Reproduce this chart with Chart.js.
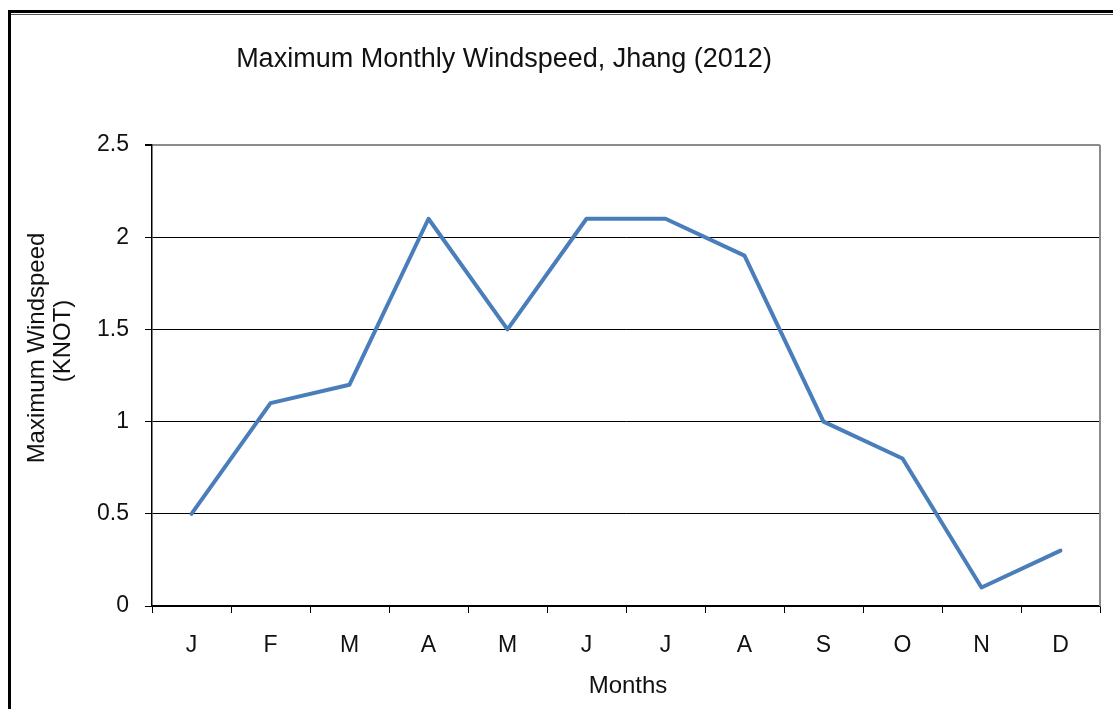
<!DOCTYPE html>
<html>
<head>
<meta charset="utf-8">
<script src="https://cdn.jsdelivr.net/npm/chart.js@4"></script>
<style>
  html, body { margin: 0; padding: 0; background: #ffffff; }
  canvas { display: block; }
</style>
</head>
<body>
<canvas id="chart" width="1113" height="709"></canvas>
<script>
// Maximum monthly windspeed at Jhang, 2012 (knots)
const months = ['J', 'F', 'M', 'A', 'M', 'J', 'J', 'A', 'S', 'O', 'N', 'D'];
const maxWindspeed = [0.5, 1.1, 1.2, 2.1, 1.5, 2.1, 2.1, 1.9, 1.0, 0.8, 0.1, 0.3];
const yTickLabels = ['0', '0.5', '1', '1.5', '2', '2.5'];

const chartTitle = 'Maximum Monthly Windspeed, Jhang (2012)';
const yTitleLines = ['Maximum Windspeed', '(KNOT)'];
const xTitle = 'Months';

const FONT = '"Liberation Sans", Arial, sans-serif';

// Page frame, chart title, axis titles and the grey plot-area border
const decorations = {
  id: 'decorations',
  beforeDraw(chart) {
    const ctx = chart.ctx;
    ctx.save();
    ctx.fillStyle = '#ffffff';
    ctx.fillRect(0, 0, chart.width, chart.height);
    // double rule along the top, heavy rule down the left
    ctx.fillStyle = '#000000';
    ctx.fillRect(8, 10, chart.width - 8, 3);
    ctx.fillRect(8, 10, 3, chart.height - 10);
    ctx.fillStyle = '#555555';
    ctx.fillRect(11, 14, chart.width - 11, 1);
    ctx.restore();
  },
  afterDraw(chart) {
    const ctx = chart.ctx;
    const area = chart.chartArea;
    ctx.save();
    // grey border on the right side of the plot area
    ctx.strokeStyle = '#8c8c8c';
    ctx.lineWidth = 2;
    ctx.beginPath();
    ctx.moveTo(area.right, area.top);
    ctx.lineTo(area.right, area.bottom);
    ctx.stroke();

    ctx.fillStyle = '#111111';
    ctx.textAlign = 'center';
    ctx.textBaseline = 'alphabetic';
    ctx.font = '27px ' + FONT;
    ctx.fillText(chartTitle, 504, 67);

    ctx.font = '24px ' + FONT;
    ctx.fillText(xTitle, 628, 693);

    ctx.save();
    ctx.translate(37, 348);
    ctx.rotate(-Math.PI / 2);
    ctx.textBaseline = 'middle';
    ctx.fillText(yTitleLines[0], 0, 0);
    ctx.restore();
    ctx.save();
    ctx.translate(63, 341);
    ctx.rotate(-Math.PI / 2);
    ctx.textBaseline = 'middle';
    ctx.fillText(yTitleLines[1], 0, 0);
    ctx.restore();

    ctx.restore();
  }
};

new Chart(document.getElementById('chart'), {
  type: 'line',
  data: {
    labels: months,
    datasets: [{
      label: 'Maximum Windspeed',
      data: maxWindspeed,
      borderColor: '#4a7ebb',
      backgroundColor: '#4a7ebb',
      borderWidth: 4,
      borderJoinStyle: 'round',
      borderCapStyle: 'round',
      pointRadius: 0,
      tension: 0,
      fill: false
    }]
  },
  options: {
    responsive: false,
    animation: false,
    devicePixelRatio: 1,
    layout: { padding: { top: 145, right: 13, left: 0, bottom: 0 } },
    plugins: {
      legend: { display: false },
      title: { display: false },
      tooltip: { enabled: false }
    },
    scales: {
      x: {
        type: 'category',
        offset: true,
        afterFit(scale) { scale.height = 103; },
        grid: {
          offset: true,
          drawOnChartArea: false,
          drawTicks: true,
          tickLength: 7,
          tickColor: '#000000',
          tickWidth: 1
        },
        border: { display: true, color: '#000000', width: 1.5 },
        ticks: {
          color: '#111111',
          font: { family: FONT, size: 23 },
          padding: 19,
          maxRotation: 0,
          autoSkip: false
        }
      },
      y: {
        min: 0,
        max: 2.5,
        afterFit(scale) { scale.width = 152; },
        grid: {
          drawOnChartArea: true,
          drawTicks: true,
          tickLength: 7,
          tickColor: '#000000',
          color: (c) => (c.tick && c.tick.value === 2.5 ? '#8c8c8c' : '#000000'),
          lineWidth: (c) => (c.tick && c.tick.value === 2.5 ? 2 : 1)
        },
        border: { display: true, color: '#000000', width: 1.5 },
        ticks: {
          stepSize: 0.5,
          color: '#111111',
          font: { family: FONT, size: 23 },
          padding: 16,
          callback: (value, index) => yTickLabels[index]
        }
      }
    }
  },
  plugins: [decorations]
});
</script>
</body>
</html>
